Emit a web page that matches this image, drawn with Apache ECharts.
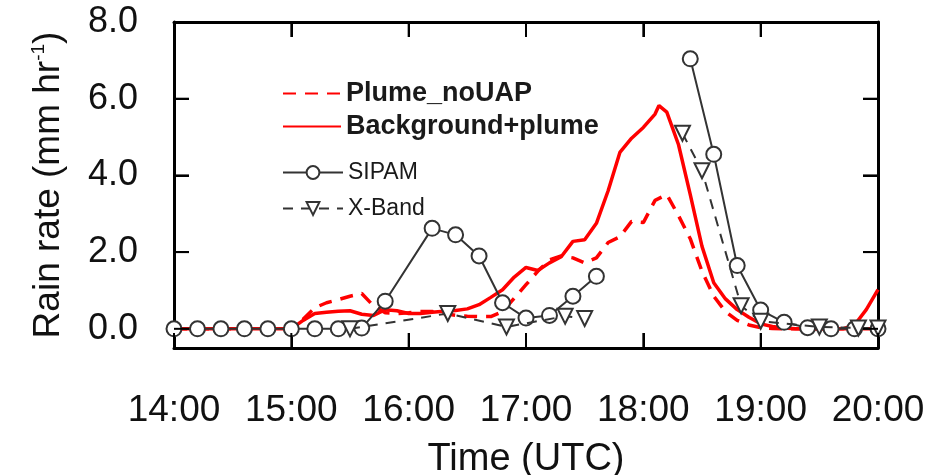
<!DOCTYPE html>
<html><head><meta charset="utf-8">
<script src="https://cdn.jsdelivr.net/npm/echarts@6/dist/echarts.min.js"></script>
<style>html,body{margin:0;padding:0;background:#fff}#c{width:951px;height:475px;background:#fff}</style>
</head><body><div id="c"></div>
<script>
// ---- data ----
const yTickValues = [0, 2, 4, 6, 8];
const xTickValues = [14, 15, 16, 17, 18, 19, 20];

const bgTimes = ['14:00','14:30','15:00','15:06','15:12','15:18','15:24','15:30','15:36','15:42','15:48','15:54',
  '16:00','16:06','16:12','16:18','16:24','16:30','16:36','16:42','16:48','16:54',
  '17:00','17:06','17:12','17:18','17:24','17:30','17:36','17:42','17:48','17:54',
  '18:00','18:06','18:08','18:12','18:18','18:24','18:30','18:36','18:42','18:48','18:54',
  '19:00','19:06','19:12','19:18','19:30','19:42','19:48','19:54','20:00'];
const bgValues = [0,0,0,0.22,0.4,0.43,0.46,0.47,0.38,0.35,0.5,0.47,
  0.4,0.4,0.43,0.46,0.48,0.52,0.63,0.82,1.02,1.35,
  1.6,1.52,1.72,1.88,2.28,2.32,2.75,3.6,4.6,4.97,
  5.25,5.6,5.82,5.65,4.8,3.5,2.15,1.2,0.78,0.5,0.3,
  0.13,0.06,0.02,0,0,0,0.1,0.5,1.02];

const plumeTimes = ['14:00','14:30','15:00','15:06','15:12','15:18','15:24','15:30','15:36','15:42','15:48','15:54',
  '16:00','16:06','16:12','16:18','16:24','16:30','16:36','16:42','16:48','16:54',
  '17:00','17:06','17:12','17:18','17:24','17:30','17:36','17:42','17:48','17:54',
  '18:00','18:06','18:12','18:18','18:24','18:30','18:36','18:42','18:48','18:54',
  '19:00','19:06','19:12','19:30','20:00'];
const plumeValues = [0,0,0,0.25,0.55,0.68,0.76,0.85,0.92,0.6,0.42,0.4,
  0.42,0.45,0.45,0.4,0.35,0.33,0.32,0.32,0.45,0.8,
  1.15,1.5,1.8,1.9,1.85,1.72,1.85,2.25,2.4,2.8,
  2.77,3.35,3.5,2.95,2.35,1.5,0.85,0.45,0.22,0.1,
  0.03,0.01,0,0,0];

const sipamTimes = ['14:00','14:12','14:24','14:36','14:48','15:00','15:12','15:24','15:36','15:48',
  '16:12','16:24','16:36','16:48','17:00','17:12','17:24','17:36','18:00',
  '18:24','18:36','18:48','19:00','19:12','19:24','19:36','19:48','20:00'];
const sipamValues = [0,0,0,0,0,0,0,0,0.02,0.72,
  2.62,2.45,1.9,0.68,0.28,0.35,0.85,1.37,null,
  7.04,4.55,1.65,0.49,0.17,0.03,0,0,0];

const xbandTimes = ['15:30','16:20','16:50','17:20','17:30','18:00',
  '18:20','18:30','18:50','19:00','19:30','19:50','20:00'];
const xbandValues = [0.0,0.4,0.05,0.33,0.27,null,
  5.1,4.12,0.6,0.2,0.05,0.02,0.02];

// ---- helpers ----
function toHours(s){ const p = s.split(':').map(Number); return p[0] + p[1]/60; }
function pairs(times, vals){ return times.map((t,i)=>[toHours(t), vals[i]===null ? '-' : vals[i]]); }

const X_MIN = 14, X_MAX = 20, Y_MIN = -0.5, Y_MAX = 8, TICK_LEN = 15;
const FONT = '"Liberation Sans", Arial, Helvetica, sans-serif';
const chart = echarts.init(document.getElementById('c'), null, {renderer:'canvas'});

function axisLineStyle(){ return {show:true, onZero:false, lineStyle:{color:'#000', width:3}}; }
function tickStyle(custom){
  const t = {show:true, inside:true, length:TICK_LEN, lineStyle:{color:'#000', width:2}};
  if (custom) t.customValues = custom.slice();
  return t;
}

chart.setOption({
  animation:false,
  grid:{left:174, right:73, top:22, bottom:127, containLabel:false, outerBoundsMode:'none'},
  xAxis:[{
    type:'value', min:X_MIN, max:X_MAX, interval:1, position:'bottom',
    axisLine:axisLineStyle(),
    axisTick:tickStyle(),
    splitLine:{show:false},
    axisLabel:{margin:44, fontSize:37, color:'#111', fontFamily:FONT, formatter:v=>v+':00'},
    name:'Time (UTC)', nameLocation:'middle', nameGap:93, nameMoveOverlap:false,
    nameTextStyle:{fontSize:38, color:'#111', fontFamily:FONT}
  },{
    type:'value', min:X_MIN, max:X_MAX, interval:1, position:'top',
    axisLine:axisLineStyle(), axisTick:tickStyle(), axisLabel:{show:false}, splitLine:{show:false}
  }],
  yAxis:[{
    type:'value', min:Y_MIN, max:Y_MAX, position:'left',
    axisLine:axisLineStyle(),
    axisTick:tickStyle(yTickValues),
    splitLine:{show:false},
    axisLabel:{margin:36, fontSize:36, color:'#111', fontFamily:FONT, customValues:yTickValues.slice(),
      formatter:v=>v.toFixed(1)},
    name:'{a|Rain rate (mm hr}{s|-1}{a|)}', nameLocation:'middle', nameGap:106, nameMoveOverlap:false,
    nameTextStyle:{fontSize:37, color:'#111', fontFamily:FONT,
      rich:{a:{fontSize:37, color:'#111', fontFamily:FONT}, s:{fontSize:19, color:'#111', fontFamily:FONT, verticalAlign:'top', padding:[0,0,20,0]}}}
  },{
    type:'value', min:Y_MIN, max:Y_MAX, position:'right',
    axisLine:axisLineStyle(),
    axisTick:tickStyle(yTickValues),
    axisLabel:{show:false, customValues:yTickValues.slice()}, splitLine:{show:false}
  }],
  legend:[{
    data:[{name:'Plume_noUAP', itemStyle:{opacity:0}}, {name:'Background+plume', itemStyle:{opacity:0}}],
    orient:'vertical', left:282, top:80, padding:0, itemWidth:58, itemHeight:14, itemGap:6,
    textStyle:{fontSize:27, fontWeight:'bold', color:'#1a1a1a', fontFamily:FONT}
  },{
    data:['SIPAM','X-Band'],
    orient:'vertical', left:282, top:161, padding:0, itemWidth:60, itemHeight:16, itemGap:13,
    textStyle:{fontSize:23, color:'#1a1a1a', fontFamily:FONT}
  }],
  series:[{
    name:'Plume_noUAP', type:'line', data:pairs(plumeTimes, plumeValues),
    showSymbol:false, symbol:'none',
    lineStyle:{color:'#ff0000', width:3.5, type:[13,9]}, itemStyle:{color:'#ff0000'}, z:2
  },{
    name:'Background+plume', type:'line', data:pairs(bgTimes, bgValues),
    showSymbol:false, symbol:'none',
    lineStyle:{color:'#ff0000', width:3.5}, itemStyle:{color:'#ff0000'}, z:3
  },{
    name:'SIPAM', type:'line', data:pairs(sipamTimes, sipamValues),
    symbol:'emptyCircle', symbolSize:15,
    lineStyle:{color:'#333', width:2}, itemStyle:{color:'#333', borderWidth:2.2}, z:4
  },{
    name:'X-Band', type:'line', data:pairs(xbandTimes, xbandValues),
    symbol:'emptyTriangle', symbolSize:15, symbolRotate:180,
    lineStyle:{color:'#333', width:2, type:[10,8]}, itemStyle:{color:'#333', borderWidth:2.2}, z:5
  }]
});

// inward frame ticks on all four sides, positioned through the chart's own axis scales
const tickEls = [];
xTickValues.forEach(v => {
  const b = chart.convertToPixel({xAxisIndex:0, yAxisIndex:0}, [v, Y_MIN]);
  const t = chart.convertToPixel({xAxisIndex:0, yAxisIndex:0}, [v, Y_MAX]);
  tickEls.push({type:'line', z:100, silent:true, shape:{x1:b[0], y1:b[1], x2:b[0], y2:b[1]-TICK_LEN}, style:{stroke:'#000', lineWidth:2}});
  tickEls.push({type:'line', z:100, silent:true, shape:{x1:t[0], y1:t[1], x2:t[0], y2:t[1]+TICK_LEN}, style:{stroke:'#000', lineWidth:2}});
});
yTickValues.forEach(v => {
  const l = chart.convertToPixel({xAxisIndex:0, yAxisIndex:0}, [X_MIN, v]);
  const r = chart.convertToPixel({xAxisIndex:0, yAxisIndex:0}, [X_MAX, v]);
  tickEls.push({type:'line', z:100, silent:true, shape:{x1:l[0], y1:l[1], x2:l[0]+TICK_LEN, y2:l[1]}, style:{stroke:'#000', lineWidth:2}});
  tickEls.push({type:'line', z:100, silent:true, shape:{x1:r[0], y1:r[1], x2:r[0]-TICK_LEN, y2:r[1]}, style:{stroke:'#000', lineWidth:2}});
});
chart.setOption({graphic:{elements:tickEls}});
</script></body></html>
